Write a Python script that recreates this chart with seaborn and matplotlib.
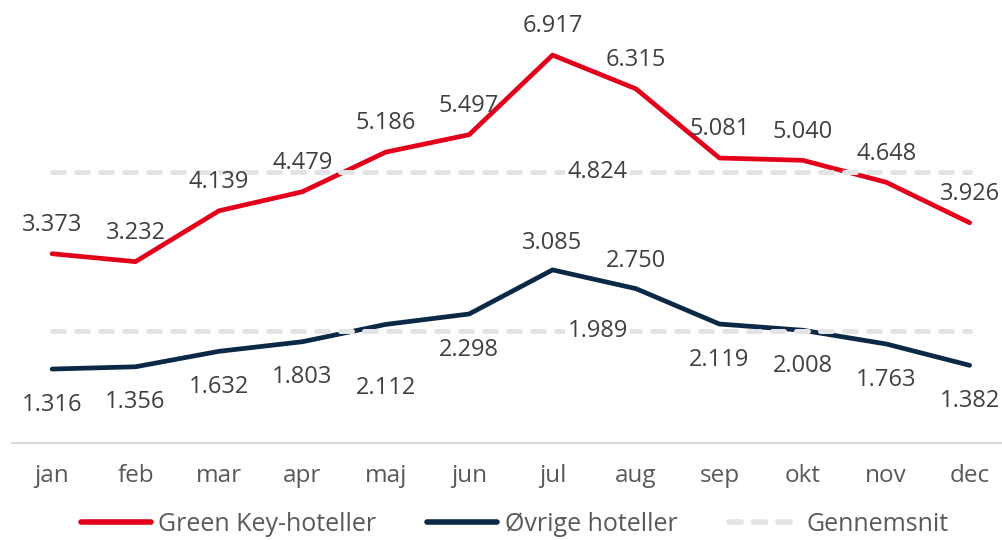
import pandas as pd
import matplotlib.pyplot as plt
import seaborn as sns
from matplotlib.lines import Line2D

# Data
months = ["jan", "feb", "mar", "apr", "maj", "jun", "jul", "aug", "sep", "okt", "nov", "dec"]
green_key = [3.373, 3.232, 4.139, 4.479, 5.186, 5.497, 6.917, 6.315, 5.081, 5.040, 4.648, 3.926]
ovrige = [1.316, 1.356, 1.632, 1.803, 2.112, 2.298, 3.085, 2.750, 2.119, 2.008, 1.763, 1.382]
avg_green = 4.824
avg_ovrige = 1.989

red = "#E2001A"
navy = "#0B2846"
grey_dash = "#E3E4E6"
text_col = "#404040"

sns.set_theme(style="white")
plt.rcParams["font.family"] = ["Open Sans", "DejaVu Sans"]

df = pd.DataFrame({
    "x": list(range(12)) * 2,
    "value": green_key + ovrige,
    "serie": ["Green Key-hoteller"] * 12 + ["Øvrige hoteller"] * 12,
})

fig = plt.figure(figsize=(10.03, 5.40), dpi=100)
ax = fig.add_axes([0.012, 0.18, 0.988, 0.82])

sns.lineplot(data=df, x="x", y="value", hue="serie",
             palette={"Green Key-hoteller": red, "Øvrige hoteller": navy},
             linewidth=3.4, legend=False, ax=ax, zorder=2)

# average lines
for v in (avg_green, avg_ovrige):
    ax.plot([0, 11], [v] * 2, color=grey_dash, linewidth=3.6,
            dashes=(2.4, 2.4), zorder=3, dash_capstyle="round")

fs = 17
for i, v in enumerate(green_key):
    ax.annotate(f"{v:.3f}", (i, v), xytext=(0, 12), textcoords="offset points",
                ha="center", va="bottom", fontsize=fs, color=text_col)
for i, v in enumerate(ovrige):
    if months[i] in ("jul", "aug"):
        ax.annotate(f"{v:.3f}", (i, v), xytext=(0, 11), textcoords="offset points",
                    ha="center", va="bottom", fontsize=fs, color=text_col)
    else:
        off = -37 if months[i] == "maj" else -17
        ax.annotate(f"{v:.3f}", (i, v), xytext=(0, off), textcoords="offset points",
                    ha="center", va="top", fontsize=fs, color=text_col)

for v in (avg_green, avg_ovrige):
    ax.text(6.54, v, f"{v:.3f}", ha="center", va="center", fontsize=fs, color=text_col,
            zorder=4, bbox=dict(facecolor="white", edgecolor="none", pad=1.5))

ax.set_xlim(-0.48, 11.4)
ax.set_ylim(0, 7.9)
ax.set_xticks(range(12))
ax.set_xticklabels(months, fontsize=17.5, color="#595959")
ax.tick_params(axis="x", length=0, pad=15)
ax.set_yticks([])
ax.set_xlabel("")
ax.set_ylabel("")
for s in ("top", "right", "left"):
    ax.spines[s].set_visible(False)
ax.spines["bottom"].set_color("#D9D9D9")
ax.spines["bottom"].set_linewidth(1.5)

handles = [
    Line2D([], [], color=red, linewidth=4, solid_capstyle="round"),
    Line2D([], [], color=navy, linewidth=4, solid_capstyle="round"),
    Line2D([], [], color=grey_dash, linewidth=4, dashes=(2.2, 2.2), dash_capstyle="round"),
]
fig.legend(handles, ["Green Key-hoteller", "Øvrige hoteller", "Gennemsnit"],
           loc="lower center", bbox_to_anchor=(0.513, -0.036), ncol=3, frameon=False,
           fontsize=18, labelcolor="#595959", handlelength=2.8, handletextpad=0.3,
           columnspacing=2.05)

fig.savefig("out.png", dpi=100)
